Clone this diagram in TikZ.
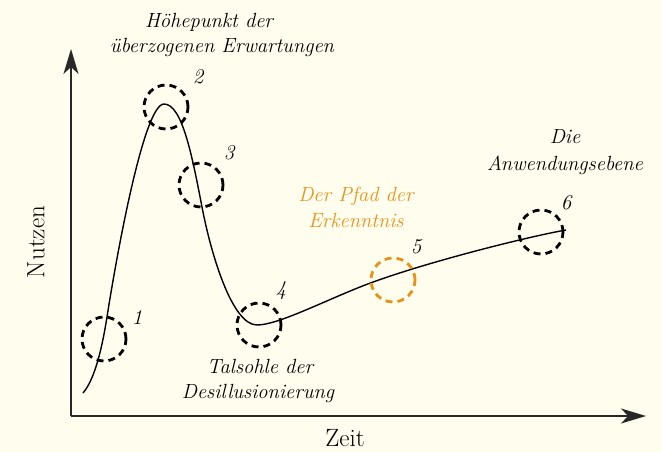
\documentclass[tikz,border=0pt]{standalone}
\usetikzlibrary{arrows.meta}
\definecolor{bgcream}{RGB}{255,253,238}
\definecolor{pfadorange}{RGB}{234,146,22}
\definecolor{axisgray}{RGB}{40,40,40}
\tikzset{
  lbl/.style={font=\fontsize{20.5}{24}\selectfont\itshape, anchor=base, inner sep=0pt},
  num/.style={font=\fontsize{21}{24}\selectfont\itshape, inner sep=0pt},
  axlbl/.style={font=\fontsize{25}{28}\selectfont, inner sep=0pt},
  ring/.style={circle, draw=black, line width=2.8pt, dash pattern=on 7pt off 5pt, minimum size=44pt, inner sep=0pt},
  axis/.style={draw=axisgray, line width=1.8pt, -{Stealth[length=25pt, width=15pt, inset=7pt]}},
  curve/.style={draw=black, line width=1.4pt}
}
\begin{document}
\begin{tikzpicture}[x=1pt,y=-1pt]
\fill[bgcream] (0,0) rectangle (662,452);
\useasboundingbox (0,0) rectangle (662,452);
% axes
\coordinate (O) at (71,416);
\coordinate (Ytip) at (71,49);
\coordinate (Xtip) at (646,416);
\draw[axis] (O) -- (Ytip);
\draw[axis] (O) -- (Xtip);
\node[axlbl, rotate=90] (nutzen) at (36,242) {Nutzen};
\node[axlbl, anchor=base] (zeit) at (345,446) {Zeit};
% curve
\coordinate (p0) at (83,393);
\coordinate (p1) at (107,317);
\coordinate (p2) at (164,104);
\coordinate (p3) at (202,207);
\coordinate (p4) at (257,325);
\coordinate (p5) at (360,287);
\coordinate (p6) at (566,230);
\draw[curve] (p0) .. controls (96,378) and (103,342) .. (p1)
  .. controls (117,253) and (144,104) .. (p2)
  .. controls (182,104) and (192,155) .. (p3)
  .. controls (211,254) and (232,325) .. (p4)
  .. controls (277,325) and (320,303) .. (p5)
  .. controls (415,265) and (526,237) .. (p6);
% rings
\node[ring] (r1) at (104,339) {};
\node[ring] (r2) at (166,107) {};
\node[ring] (r3) at (201,185) {};
\node[ring] (r4) at (259,325) {};
\node[ring, draw=pfadorange] (r5) at (393,280) {};
\node[ring] (r6) at (541,232) {};
% numbers
\node[num] (n1) at (137,318) {1};
\node[num] (n2) at (198,77) {2};
\node[num] (n3) at (229,153) {3};
\node[num] (n4) at (281,291) {4};
\node[num] (n5) at (416,247) {5};
\node[num] (n6) at (566,203) {6};
% texts
\node[lbl] (t1a) at (209,28) {Höhepunkt der};
\node[lbl] (t1b) at (222,53) {überzogenen Erwartungen};
\node[lbl] (t2a) at (565,143) {Die};
\node[lbl] (t2b) at (565,170) {Anwendungsebene};
\node[lbl, text=pfadorange] (t3a) at (356,201) {Der Pfad der};
\node[lbl, text=pfadorange] (t3b) at (356,227) {Erkenntnis};
\node[lbl] (t4a) at (260,373) {Talsohle der};
\node[lbl] (t4b) at (258,398) {Desillusionierung};
\end{tikzpicture}
\end{document}
